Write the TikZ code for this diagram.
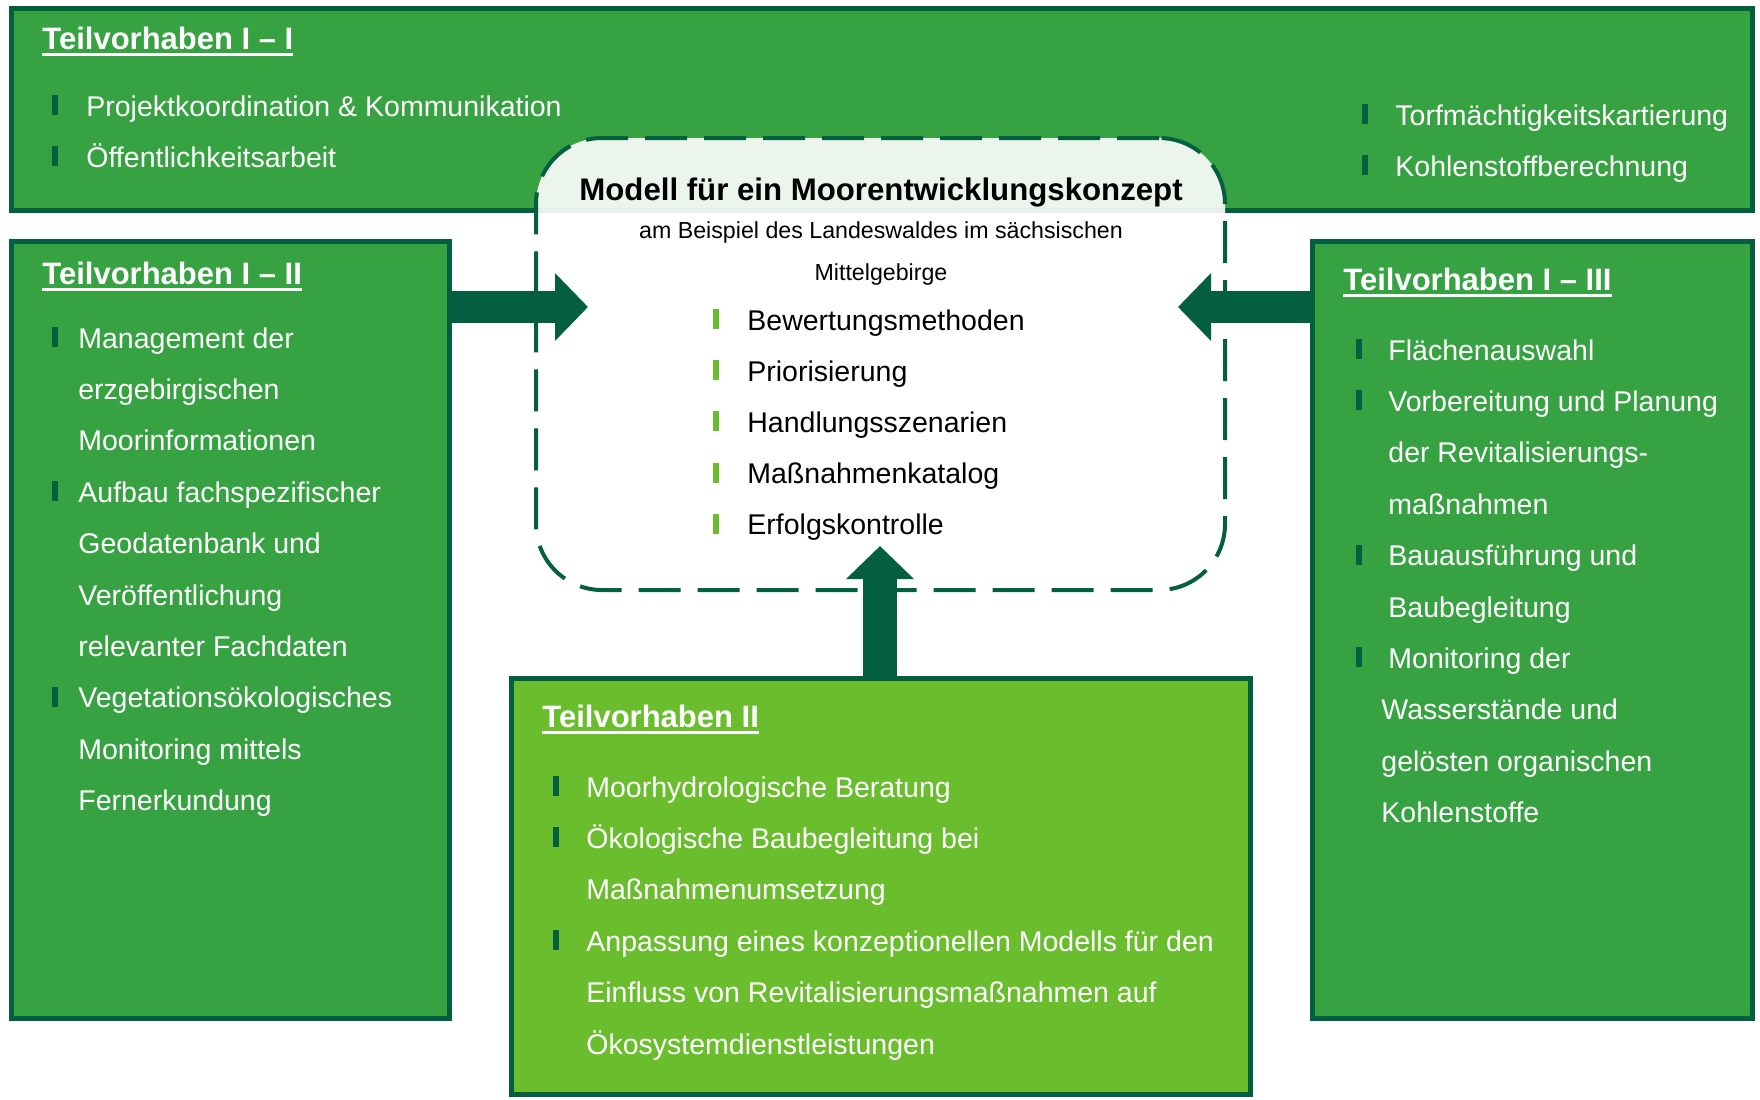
\documentclass[tikz,border=0pt]{standalone}
\usepackage{fontspec}
\setmainfont{Liberation Sans}
\usetikzlibrary{arrows.meta, positioning}

\definecolor{tvdark}{RGB}{4,94,64}
\definecolor{tvmid}{RGB}{55,162,66}
\definecolor{tvlight}{RGB}{106,189,45}

% underlined title text
\newcommand{\tvul}[1]{\setbox0\hbox{#1}\rlap{\rule[-3.5pt]{\wd0}{1.5pt}}\box0}

\begin{document}
\begin{tikzpicture}[x=0.5pt, y=-0.5pt,
  tvbox/.style={draw=tvdark, line width=2.5pt, fill=tvmid, anchor=north west, inner sep=0pt},
  tvtitle/.style={anchor=base west, inner sep=0pt, text=white, font=\fontsize{15.5}{18}\selectfont\bfseries},
  tvtext/.style={anchor=base west, inner sep=0pt, text=white, font=\fontsize{14.25}{17}\selectfont},
  mtext/.style={tvtext, text=black},
  bigarrow/.style={draw=tvdark, line width=16pt, -{Triangle[length=16.5pt, width=33pt]}},
]
\useasboundingbox (0,0) rectangle (1760,1099);

% BOXES
\node[tvbox, minimum width=870.5pt, minimum height=101pt] (tv11) at (9,6) {};
\node[tvbox, minimum width=219pt, minimum height=388.5pt] (tv12) at (9,239) {};
\node[tvbox, minimum width=220pt, minimum height=388.5pt] (tv13) at (1310,239) {};
\node[tvbox, fill=tvlight, minimum width=369.5pt, minimum height=208pt] (tv2) at (509,676) {};
\node[draw=tvdark, line width=2pt, dash pattern=on 21pt off 8.5pt, rounded corners=33pt,
  fill=white, fill opacity=0.9, anchor=north west, inner sep=0pt,
  minimum width=344.5pt, minimum height=226pt] (model) at (534,136) {};

% helper coordinates
\coordinate (tipL) at (588,307);
\coordinate (tipR) at (1178,307);
\coordinate (tipU) at (880,546);

% TEILVORHABEN I - I
\node[tvtitle] (t11) at (42,49) {\tvul{Teilvorhaben I – I}};
\foreach \txt [count=\i] in {Projektkoordination \& Kommunikation, Öffentlichkeitsarbeit} {
  \node[tvtext] (T\i) at (86,{116+51*(\i-1)}) {\txt};
  \fill[tvdark] ([xshift=-14.25pt,yshift=0.5pt]T\i.base west) rectangle ++(-3pt,10pt);
}
\foreach \txt [count=\i] in {Torfmächtigkeitskartierung, Kohlenstoffberechnung} {
  \node[tvtext] (TR\i) at (1395,{125+51*(\i-1)}) {\txt};
  \fill[tvdark] ([xshift=-13.75pt,yshift=0.5pt]TR\i.base west) rectangle ++(-3pt,10pt);
}

% TEILVORHABEN I - II
\node[tvtitle] (t12) at (42,284) {\tvul{Teilvorhaben I – II}};
\foreach \txt/\b [count=\i] in {Management der/1, erzgebirgischen/0, Moorinformationen/0,
  Aufbau fachspezifischer/1, Geodatenbank und/0, Veröffentlichung/0, relevanter Fachdaten/0,
  Vegetationsökologisches/1, Monitoring mittels/0, Fernerkundung/0} {
  \node[tvtext] (L\i) at (78,{348+51.4*(\i-1)}) {\txt};
  \ifnum\b=1 \fill[tvdark] ([xshift=-10.25pt,yshift=0.5pt]L\i.base west) rectangle ++(-3pt,10pt); \fi
}

% TEILVORHABEN I - III
\node[tvtitle] (t13) at (1343,290) {\tvul{Teilvorhaben I – III}};
\foreach \txt/\b/\dx [count=\i] in {Flächenauswahl/1/0, Vorbereitung und Planung/1/0,
  der Revitalisierungs-/0/0, maßnahmen/0/0, Bauausführung und/1/0, Baubegleitung/0/0,
  Monitoring der/1/0, Wasserstände und/0/-7, gelösten organischen/0/-7, Kohlenstoffe/0/-7} {
  \node[tvtext] (R\i) at ({1388+\dx},{360+51.4*(\i-1)}) {\txt};
  \ifnum\b=1 \fill[tvdark] ([xshift=-13.25pt,yshift=0.5pt]R\i.base west) rectangle ++(-3pt,10pt); \fi
}

% TEILVORHABEN II
\node[tvtitle] (t2) at (542,727) {\tvul{Teilvorhaben II}};
\foreach \txt/\b [count=\i] in {Moorhydrologische Beratung/1, Ökologische Baubegleitung bei/1,
  Maßnahmenumsetzung/0, Anpassung eines konzeptionellen Modells für den/1,
  Einfluss von Revitalisierungsmaßnahmen auf/0, Ökosystemdienstleistungen/0} {
  \node[tvtext] (B\i) at (586,{797+51.4*(\i-1)}) {\txt};
  \ifnum\b=1 \fill[tvdark] ([xshift=-13.75pt,yshift=0.5pt]B\i.base west) rectangle ++(-3pt,10pt); \fi
}

% MODELL
\node[anchor=base, inner sep=0pt, font=\fontsize{15.6}{18}\selectfont\bfseries] (mtitle) at (881,200)
  {Modell für ein Moorentwicklungskonzept};
\node[anchor=base, inner sep=0pt, font=\fontsize{11.6}{14}\selectfont] (msub1) at (881,238)
  {am Beispiel des Landeswaldes im sächsischen};
\node[anchor=base, inner sep=0pt, font=\fontsize{11.6}{14}\selectfont] (msub2) at (881,280)
  {Mittelgebirge};
\foreach \txt [count=\i] in {Bewertungsmethoden, Priorisierung, Handlungsszenarien,
  Maßnahmenkatalog, Erfolgskontrolle} {
  \node[mtext] (M\i) at (747,{330+51.2*(\i-1)}) {\txt};
  \fill[tvlight] ([xshift=-14.25pt,yshift=0.5pt]M\i.base west) rectangle ++(-3pt,10pt);
}

% ARROWS
\draw[bigarrow] (tv12.east |- tipL) -- (tipL);
\draw[bigarrow] (tv13.west |- tipR) -- (tipR);
\draw[bigarrow, line width=17pt] (tipU |- tv2.north) -- (tipU);

\end{tikzpicture}
\end{document}
